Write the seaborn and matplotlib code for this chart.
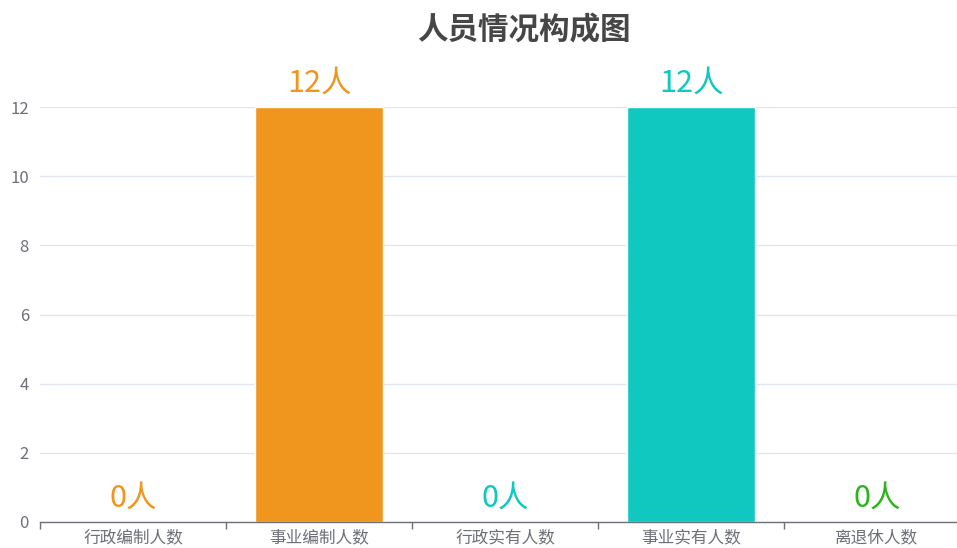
import matplotlib
matplotlib.use("Agg")
import matplotlib.pyplot as plt
import seaborn as sns
import pandas as pd
from matplotlib.ticker import FixedLocator

categories = ["行政编制人数", "事业编制人数", "行政实有人数", "事业实有人数", "离退休人数"]
counts = [0, 12, 0, 12, 0]
bar_colors = ["#F0961E", "#F0961E", "#10C8C0", "#10C8C0", "#2DB51E"]
yticks = [0, 2, 4, 6, 8, 10, 12]
title = "人员情况构成图"

sns.set_theme(style="white")
plt.rcParams["font.family"] = ["Noto Sans CJK SC", "DejaVu Sans"]

df = pd.DataFrame({"category": categories, "count": counts})

fig = plt.figure(figsize=(9.57, 5.48), dpi=100)
# plot area runs past the right edge of the picture, as in the reference
ax = fig.add_axes([40 / 957, 1 - 522 / 548, 930 / 957, (522 - 107) / 548])

sns.barplot(data=df, x="category", y="count", hue="category",
            palette=bar_colors, width=0.69, legend=False, ax=ax,
            saturation=1)

ax.set_xlim(-0.5, len(categories) - 0.5)
ax.set_ylim(0, 12)
ax.set_yticks(yticks)
ax.yaxis.grid(True, color="#E0E6F1", linewidth=1)
ax.set_axisbelow(True)
for side in ["top", "right", "left"]:
    ax.spines[side].set_visible(False)
ax.spines["bottom"].set_color("#6E7079")
ax.spines["bottom"].set_linewidth(1)

ax.set_xlabel("")
ax.set_ylabel("")
ax.tick_params(axis="x", which="major", length=0, pad=5.5, labelsize=12, labelcolor="#6E7079")
ax.xaxis.set_minor_locator(FixedLocator([i - 0.5 for i in range(len(categories) + 1)]))
ax.tick_params(axis="x", which="minor", length=5, width=1, color="#6E7079", bottom=True)
ax.tick_params(axis="y", length=0, pad=8, labelsize=12, labelcolor="#6E7079")

for i, (v, c) in enumerate(zip(counts, bar_colors)):
    ax.annotate(f"{v}人", (i, v), xytext=(0, 6), textcoords="offset points",
                ha="center", va="bottom", fontsize=22, color=c,
                annotation_clip=False)

fig.text(524 / 957, 1 - 30 / 548, title, ha="center", va="center",
         fontsize=22, fontweight="bold", color="#464646")

fig.savefig("out.png", dpi=100)
